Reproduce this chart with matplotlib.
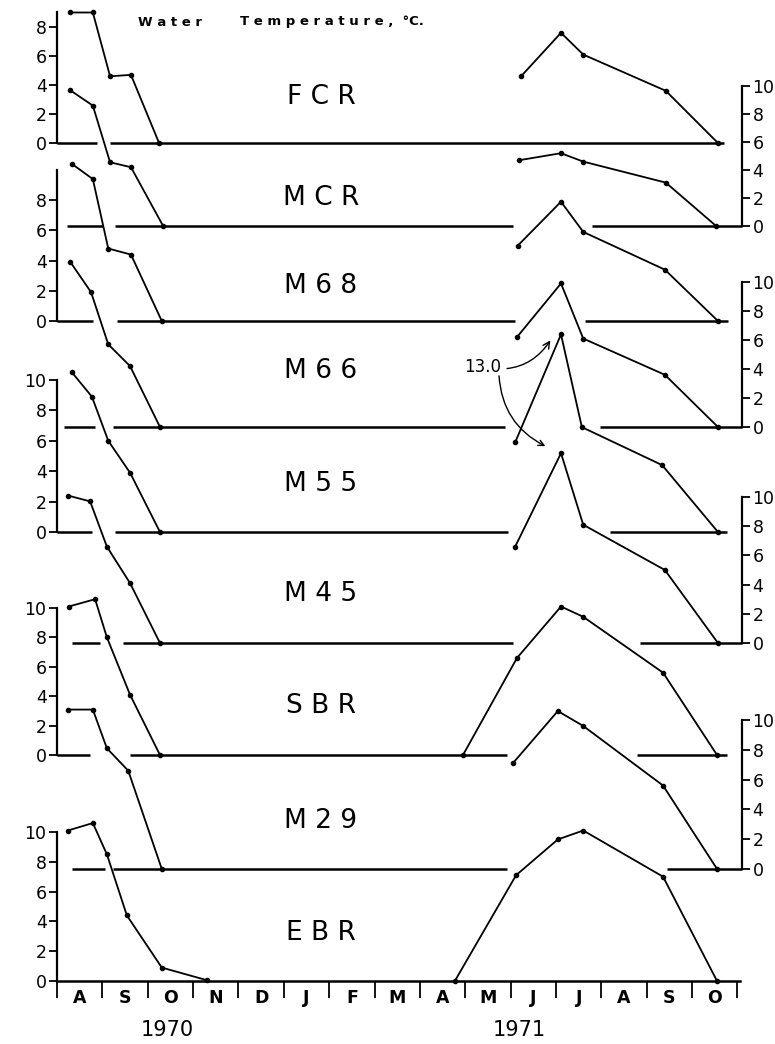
import numpy as np
import matplotlib.pyplot as plt

W, H = 775, 1044
nan = np.nan

# x = months counted from 1 Aug 1970, y = water temperature (deg C)
months = ['A', 'S', 'O', 'N', 'D', 'J', 'F', 'M', 'A', 'M', 'J', 'J', 'A', 'S', 'O']
years = ['1970', '1971']
year_pos = [2.42, 10.18]
stations = ['FCR', 'MCR', 'M68', 'M66', 'M55', 'M45', 'SBR', 'M29', 'EBR']

fcr_x = [0.29, 0.79, 1.17, 1.63, 2.25, nan, 10.23, 11.11, 11.6, 13.42, 14.57]
fcr_t = [9.0, 9.0, 4.6, 4.7, 0.0, nan, 4.6, 7.6, 6.1, 3.6, 0.0]
mcr_x = [0.29, 0.79, 1.17, 1.63, 2.34, nan, 10.19, 11.11, 11.6, 13.42, 14.53]
mcr_t = [9.7, 8.6, 4.55, 4.2, 0.0, nan, 4.7, 5.2, 4.6, 3.1, 0.0]
m68_x = [0.33, 0.79, 1.13, 1.63, 2.31, nan, 10.16, 11.11, 11.6, 13.4, 14.57]
m68_t = [10.4, 9.4, 4.8, 4.4, 0.0, nan, 5.0, 7.9, 5.9, 3.4, 0.0]
m66_x = [0.29, 0.75, 1.13, 1.61, 2.27, nan, 10.14, 11.11, 11.6, 13.4, 14.57]
m66_t = [11.4, 9.3, 5.7, 4.2, 0.0, nan, 6.2, 9.9, 6.1, 3.6, 0.0]
m55_x = [0.33, 0.77, 1.13, 1.61, 2.27, nan, 10.1, 11.11, 11.57, 13.34, 14.57]
m55_t = [10.5, 8.9, 6.0, 3.9, 0.0, nan, 5.9, 13.0, 6.9, 4.4, 0.0]
m45_x = [0.24, 0.73, 1.1, 1.61, 2.27, nan, 10.1, 11.11, 11.6, 13.4, 14.57]
m45_t = [10.1, 9.7, 6.6, 4.1, 0.0, nan, 6.6, 13.0, 8.1, 5.0, 0.0]
sbr_x = [0.26, 0.84, 1.1, 1.61, 2.27, nan, 8.95, 10.14, 11.11, 11.6, 13.36, 14.55]
sbr_t = [10.1, 10.6, 8.0, 4.1, 0.0, nan, 0.0, 6.6, 10.1, 9.4, 5.6, 0.0]
m29_x = [0.24, 0.79, 1.1, 1.57, 2.31, nan, 10.05, 11.04, 11.6, 13.36, 14.55]
m29_t = [10.7, 10.7, 8.1, 6.6, 0.0, nan, 7.1, 10.6, 9.6, 5.6, 0.0]
ebr_x = [0.24, 0.79, 1.1, 1.54, 2.31, 3.31, nan, 8.77, 10.12, 11.04, 11.6, 13.36, 14.55]
ebr_t = [10.1, 10.6, 8.5, 4.4, 0.9, 0.05, nan, 0.0, 7.1, 9.5, 10.1, 7.0, 0.0]

series_x = [fcr_x, mcr_x, m68_x, m66_x, m55_x, m45_x, sbr_x, m29_x, ebr_x]
series_t = [fcr_t, mcr_t, m68_t, m66_t, m55_t, m45_t, sbr_t, m29_t, ebr_t]

# layout: zero line (px from top), px per degree, label height, axis side
base_px = [143, 226, 321, 427, 532, 643, 755, 869, 981]
unit_px = [14.5, 14.0, 15.1, 14.5, 15.2, 14.6, 14.7, 14.9, 14.9]
label_px = [97, 198, 286, 371, 484, 594, 706, 821, 933]
side = ['left', 'right', 'left', 'right', 'left', 'right', 'left', 'right', 'left']
# pieces of each zero line (broken where other curves cross)
zero_pieces = [
    [(0, 0.88), (1.17, 14.7)],
    [(0.22, 1.01), (1.28, 10.05), (11.8, 15.1)],
    [(0, 0.79), (1.32, 10.1), (11.64, 14.8)],
    [(0.15, 0.84), (1.23, 9.88), (11.97, 15.1)],
    [(0, 0.77), (1.28, 9.94), (12.19, 14.77)],
    [(0.33, 0.95), (1.46, 10.05), (12.85, 15.1)],
    [(0, 0.73), (1.61, 9.92), (12.79, 14.77)],
    [(0.33, 1.06), (1.23, 9.92), (13.45, 15.1)],
    [],
]

x0_px, x1_px = 57, 742
xmax = 15.1
px_per_month = (x1_px - x0_px) / xmax

fig = plt.figure(figsize=(W / 100, H / 100), dpi=100)
axes = []
for i, name in enumerate(stations):
    b, u = base_px[i], unit_px[i]
    ax = fig.add_axes([x0_px / W, 1 - b / H, (x1_px - x0_px) / W, 10 * u / H])
    ax.set_xlim(0, xmax)
    ax.set_ylim(0, 10)
    ax.patch.set_visible(False)
    for s in ax.spines.values():
        s.set_visible(False)
    ax.set_xticks([])

    # y axis on alternate sides
    sp = ax.spines[side[i]]
    sp.set_visible(True)
    sp.set_linewidth(1.6)
    if name == 'FCR':
        sp.set_bounds(0, 9)
        ticks = [0, 2, 4, 6, 8]
    elif name == 'M68':
        sp.set_bounds(0, 10)
        ticks = [0, 2, 4, 6, 8]
    else:
        sp.set_bounds(0, 10)
        ticks = [0, 2, 4, 6, 8, 10]
    ax.set_yticks(ticks)
    if side[i] == 'right':
        ax.yaxis.tick_right()
    ax.tick_params(axis='y', length=6, width=1.3, labelsize=12.5, pad=1.5)

    for a, c in zero_pieces[i]:
        ax.hlines(0, a, c, color='black', lw=1.8, clip_on=False)

    ax.plot(series_x[i], series_t[i], color='black', lw=1.3,
            marker='o', ms=3, clip_on=False)

    ax.text((321 - x0_px) / px_per_month, (b - label_px[i]) / u, ' '.join(name),
            ha='center', va='center', fontsize=19)
    axes.append(ax)

# bottom month axis on the EBR panel
ax = axes[-1]
ax.spines['bottom'].set_visible(True)
ax.spines['bottom'].set_linewidth(1.8)
ax.spines['bottom'].set_bounds(0, 15.05)
ax.set_xticks(range(16))
ax.set_xticklabels([])
ax.set_xticks(np.arange(15) + 0.5, minor=True)
ax.set_xticklabels(months, minor=True, fontsize=12.5, fontweight='bold')
ax.tick_params(axis='x', which='major', direction='out', length=12, width=1.3)
ax.tick_params(axis='x', which='minor', length=0, pad=6)
for yr, xp in zip(years, year_pos):
    ax.text(xp, (981 - 1030) / 14.9, yr, ha='center', va='center', fontsize=15)

# 13.0 peak note
ax55, ax45 = axes[4], axes[5]
txt = ((483 - x0_px) / px_per_month, (532 - 367) / 15.2)
ax55.annotate('13.0', xy=(10.91, 12.76), xytext=txt, ha='center', va='center',
              fontsize=12, annotation_clip=False,
              arrowprops=dict(arrowstyle='->', lw=1.0,
                              connectionstyle='arc3,rad=0.35'))
ax55.annotate('', xy=(10.82, 13.4), xycoords=ax45.transData,
              xytext=(txt[0] + 0.35, txt[1] - 0.4), textcoords=ax55.transData,
              annotation_clip=False,
              arrowprops=dict(arrowstyle='->', lw=1.0,
                              connectionstyle='arc3,rad=0.3'))

fig.text(138 / W, 1 - 22 / H, ' '.join('Water'), ha='left', va='center',
         fontsize=9.5, fontweight='bold')
fig.text(240 / W, 1 - 22 / H, ' '.join('Temperature,') + '  °C.', ha='left',
         va='center', fontsize=9.5, fontweight='bold')

fig.savefig('out.png', dpi=100)
